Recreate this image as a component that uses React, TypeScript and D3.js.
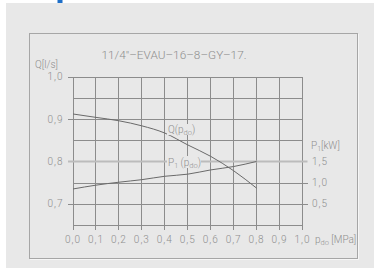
import * as d3 from "d3";

const W = 374;
const H = 268;

// pressure p_do [MPa]
const pressure = [0, 0.1, 0.2, 0.3, 0.4, 0.5, 0.6, 0.7, 0.8];
// flow Q [l/s]
const flow = [0.912, 0.904, 0.896, 0.884, 0.867, 0.839, 0.812, 0.778, 0.737];
// power P1 [kW]
const power = [0.85, 0.94, 1.01, 1.07, 1.15, 1.2, 1.3, 1.38, 1.5];

const xTicks = [0, 0.1, 0.2, 0.3, 0.4, 0.5, 0.6, 0.7, 0.8, 0.9, 1.0];
const qGrid = [0.65, 0.7, 0.75, 0.8, 0.85, 0.9, 0.95, 1.0];
const qTicks = [0.7, 0.8, 0.9, 1.0];
const pTicks = [0.5, 1.0, 1.5];

const TITLE = "11/4\"\u2013EVAU\u201316\u20138\u2013GY\u201317.";

const BG = "#e8e8e8";
const GRID = "#8c8c8c";
const TXT = "#8e8e8e";
const FONT = "Roboto, 'DejaVu Sans', sans-serif";

// decimal comma
const fmt = (v: number) => v.toFixed(1).replace(".", ",");

export default function App() {
  const x = d3.scaleLinear().domain([0, 1]).range([73, 302.5]);
  const yQ = d3.scaleLinear().domain([0.65, 1.0]).range([225, 76.7]);
  const yP = d3.scaleLinear().domain([0, 3.5]).range([225, 76.7]);

  const qLine = d3
    .line<number>()
    .curve(d3.curveMonotoneX)
    .x((_, i) => x(pressure[i]))
    .y((d) => yQ(d));
  const pLine = d3
    .line<number>()
    .curve(d3.curveMonotoneX)
    .x((_, i) => x(pressure[i]))
    .y((d) => yP(d));

  const [x0, x1] = x.range();
  const yTop = yQ(1.0);
  const yBot = yQ(0.65);

  return (
    <svg
      width={W}
      height={H}
      style={{ position: "absolute", left: 0, top: 0, background: "#fff" }}
      fontFamily={FONT}
      fontWeight={300}
    >
      <rect x={6} y={3} width={W - 6} height={H - 3} fill={BG} />
      <rect x={57.5} y={0} width={5} height={3} fill="#1e6fc8" />

      {/* frame */}
      <rect x={29.5} y={33.5} width={328} height={225} fill="none" stroke="#a6a6a6" />
      <path d="M358.5,34 V259.5 H30" fill="none" stroke="#f6f6f6" />

      <text x={101.5} y={59} fontSize={11.5} fill={TXT} textLength={145} lengthAdjust="spacingAndGlyphs">
        {TITLE}
      </text>

      {/* grid */}
      <g stroke={GRID} strokeWidth={1} shapeRendering="crispEdges">
        {xTicks.map((t) => (
          <line key={"v" + t} x1={x(t)} x2={x(t)} y1={yTop} y2={yBot + 5} />
        ))}
        {qGrid
          .filter((q) => q !== 0.8)
          .map((q) => (
            <line
              key={"h" + q}
              x1={qTicks.includes(q) ? x0 - 5 : x0}
              x2={x1}
              y1={Math.round(yQ(q)) + 0.5}
              y2={Math.round(yQ(q)) + 0.5}
            />
          ))}
        {pTicks
          .filter((p) => p !== 1.5)
          .map((p) => (
            <line key={"p" + p} x1={x1} x2={x1 + 5} y1={Math.round(yP(p)) + 0.5} y2={Math.round(yP(p)) + 0.5} />
          ))}
      </g>
      <line x1={x0 - 5} x2={x1 + 5} y1={yQ(0.8)} y2={yQ(0.8)} stroke="#bcbcbc" strokeWidth={2} />

      {/* curves */}
      <path d={qLine(flow) ?? ""} fill="none" stroke="#6a6a6a" strokeWidth={1} />
      <path d={pLine(power) ?? ""} fill="none" stroke="#6a6a6a" strokeWidth={1} />

      {/* curve labels */}
      <rect x={167} y={124} width={31} height={11} fill={BG} />
      <text x={168} y={133} fontSize={10} fill={TXT}>
        Q(p<tspan fontSize={7.5} dy={2}>do</tspan><tspan dy={-2}>)</tspan>
      </text>
      <rect x={167} y={156} width={34} height={12} fill={BG} />
      <text x={168} y={165.5} fontSize={10} fill={TXT}>
        P<tspan fontSize={7} dy={2}>1</tspan><tspan dy={-2}> (p</tspan>
        <tspan fontSize={7.5} dy={2}>do</tspan><tspan dy={-2}>)</tspan>
      </text>

      {/* left axis */}
      <text x={35} y={68} fontSize={10} fill={TXT}>Q[l/s]</text>
      {qTicks.map((q) => (
        <text key={"ql" + q} x={63.5} y={yQ(q)} dy="0.35em" fontSize={10} fill={TXT} textAnchor="end" letterSpacing={1}>
          {fmt(q)}
        </text>
      ))}

      {/* right axis */}
      <text x={311} y={149} fontSize={10} fill={TXT}>
        P<tspan fontSize={7} dy={2}>1</tspan><tspan dy={-2}>[kW]</tspan>
      </text>
      {pTicks.map((p) => (
        <text key={"pl" + p} x={312} y={yP(p)} dy="0.35em" fontSize={10} fill={TXT} letterSpacing={1}>
          {fmt(p)}
        </text>
      ))}

      {/* bottom axis */}
      {xTicks.map((t) => (
        <text key={"xl" + t} x={x(t)} y={243} fontSize={10} fill={TXT} textAnchor="middle" letterSpacing={1}>
          {fmt(t)}
        </text>
      ))}
      <text x={315} y={243} fontSize={10} fill={TXT}>
        p<tspan fontSize={7.5} dy={2}>do</tspan><tspan dy={-2}> [MPa]</tspan>
      </text>
    </svg>
  );
}
